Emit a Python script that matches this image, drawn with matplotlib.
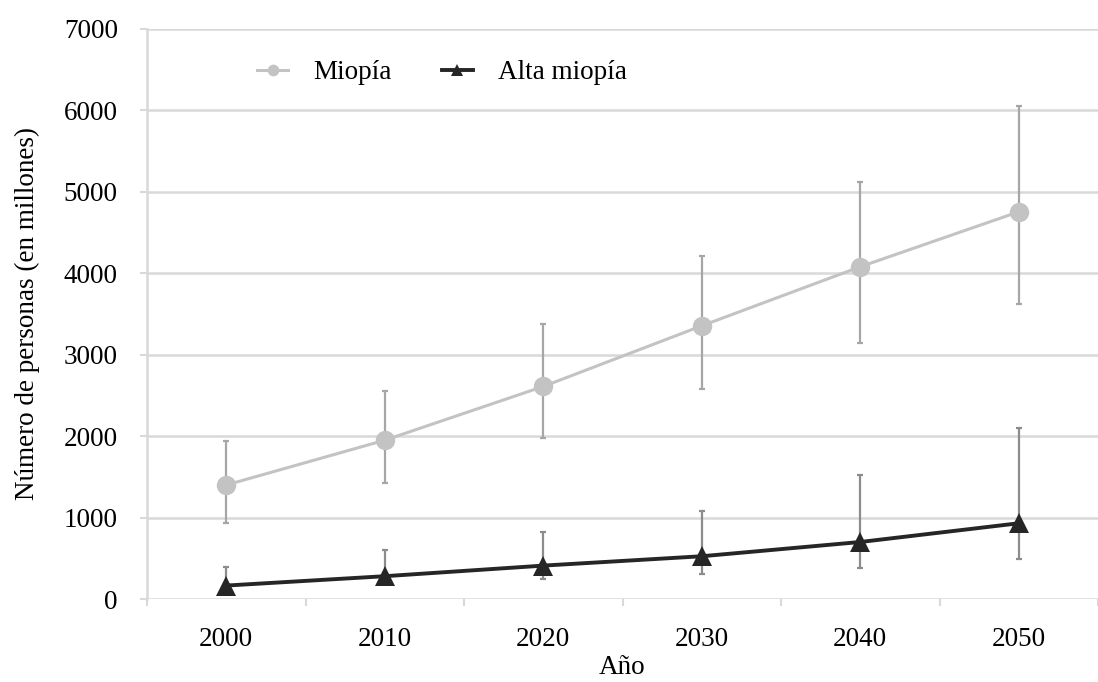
import matplotlib.pyplot as plt
import numpy as np

plt.rcParams['font.family'] = ['Liberation Serif', 'DejaVu Serif']

years = ['2000', '2010', '2020', '2030', '2040', '2050']

# Miopía (millones) con intervalo
miopia = [1400, 1950, 2610, 3355, 4080, 4755]
miopia_lo = [935, 1430, 1980, 2585, 3145, 3620]
miopia_hi = [1943, 2550, 3375, 4215, 5120, 6055]

# Alta miopía
alta = [165, 280, 410, 525, 700, 930]
alta_lo = [150, 200, 245, 306, 377, 490]
alta_hi = [393, 598, 824, 1083, 1517, 2105]

x = np.arange(len(years))
fs = 19.5

fig = plt.figure(figsize=(10.98, 6.82), dpi=100)
ax = fig.add_axes([0.1339, 0.1217, 1 - 0.1339, 0.8358])

grid_col = '#d9d9d9'
for v in range(0, 8000, 1000):
    ax.axhline(v, color=grid_col, lw=1.8, zorder=0)

m_err = [np.array(miopia) - np.array(miopia_lo), np.array(miopia_hi) - np.array(miopia)]
a_err = [np.array(alta) - np.array(alta_lo), np.array(alta_hi) - np.array(alta)]

ax.errorbar(x, miopia, yerr=m_err, fmt='none', ecolor='#a6a6a6', elinewidth=1.6,
            capsize=2.5, capthick=1.6, zorder=2)
ax.errorbar(x, alta, yerr=a_err, fmt='none', ecolor='#8c8c8c', elinewidth=1.6,
            capsize=2.5, capthick=1.6, zorder=2)

ax.plot(x, miopia, color='#c3c3c3', lw=2.2, marker='o', markersize=14,
        markeredgewidth=0, label='Miopía', zorder=3)
ax.plot(x, alta, color='#262626', lw=2.8, marker='^', markersize=14,
        markeredgewidth=0, label='Alta miopía', zorder=4)

ax.set_xlim(-0.5, 5.43)
ax.set_ylim(0, 7000)
ax.set_yticks(range(0, 8000, 1000))
ax.set_xticks(x)
ax.set_xticklabels(years)
ax.set_xticks(np.arange(-0.5, 6, 1), minor=True)

for s in ['top', 'right', 'bottom']:
    ax.spines[s].set_visible(False)
ax.spines['left'].set_color(grid_col)
ax.spines['left'].set_linewidth(1.8)

ax.tick_params(axis='y', length=5, width=1.5, color=grid_col, labelsize=fs, pad=16)
ax.tick_params(axis='x', which='major', length=0, labelsize=fs, pad=20)
ax.tick_params(axis='x', which='minor', length=5, width=1.5, color=grid_col)

ax.set_xlabel('Año', fontsize=fs, labelpad=2)
ax.set_ylabel('Número de personas (en millones)', fontsize=fs, labelpad=17)

ax.legend(loc='center left', bbox_to_anchor=(0.1157, 0.923), ncol=2, frameon=False,
          fontsize=fs, markerscale=0.6, handlelength=1.15, columnspacing=1.85,
          handletextpad=0.92, borderpad=0, borderaxespad=0)

fig.savefig('out.png', dpi=100)
